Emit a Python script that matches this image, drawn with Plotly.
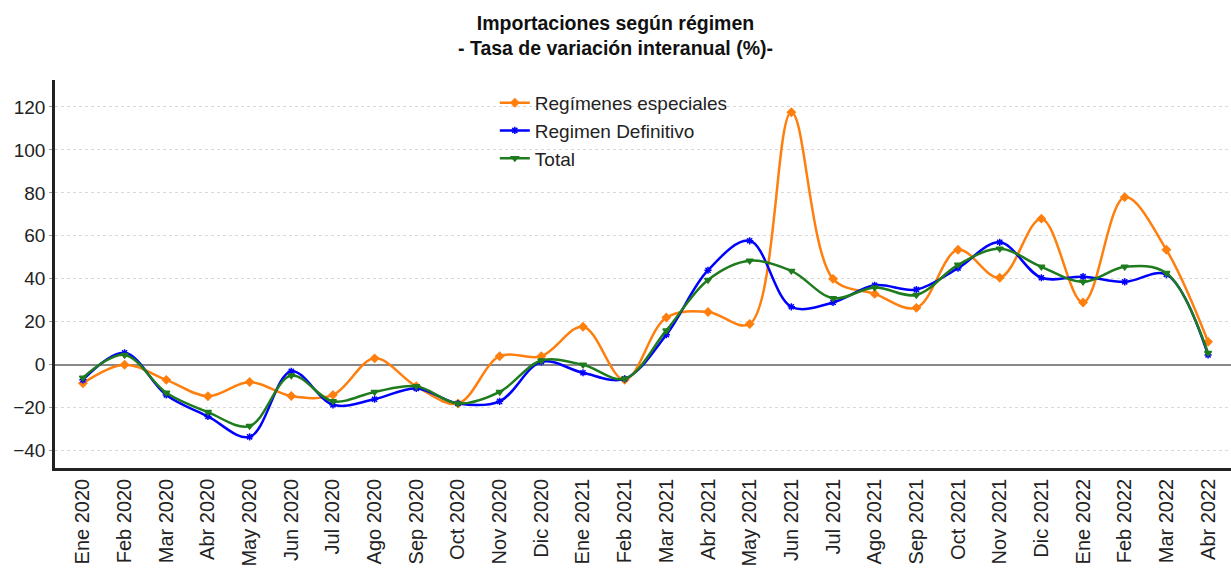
import plotly.graph_objects as go

meses = ["Ene 2020", "Feb 2020", "Mar 2020", "Abr 2020", "May 2020", "Jun 2020", "Jul 2020",
         "Ago 2020", "Sep 2020", "Oct 2020", "Nov 2020", "Dic 2020", "Ene 2021", "Feb 2021",
         "Mar 2021", "Abr 2021", "May 2021", "Jun 2021", "Jul 2021", "Ago 2021", "Sep 2021",
         "Oct 2021", "Nov 2021", "Dic 2021", "Ene 2022", "Feb 2022", "Mar 2022", "Abr 2022"]

regimenes_especiales = [-8.6, 0, -7, -14.6, -8, -14.5, -14, 3, -10, -18, 4, 4, 17.7, -7,
                        22, 24.6, 19, 117.5, 40, 33, 26.5, 53.5, 40.5, 68, 29, 78, 53.5, 10.7]
regimen_definitivo = [-7, 5.6, -14, -24, -33.5, -3, -18.6, -16, -11, -18, -17, 1.4, -3.7, -6.5,
                      14, 44, 57.7, 27, 29, 37, 35, 45, 57, 40.5, 41, 38.6, 42, 4.6]
total = [-6, 4.6, -13, -22, -28.5, -5, -17, -12.6, -10, -18, -12.6, 2, 0, -6.5,
         16, 39.5, 48.4, 43.7, 31, 36, 32.5, 46.5, 54, 45.6, 38.6, 45.6, 42.7, 5.5]

series = [
    ("Regímenes especiales", regimenes_especiales, "#ff7f0e", "diamond"),
    ("Regimen Definitivo", regimen_definitivo, "#0000ff", "asterisk"),
    ("Total", total, "#1e7b1e", "triangle-down"),
]

fig = go.Figure()
for name, vals, color, sym in series:
    fig.add_trace(go.Scatter(
        x=meses, y=vals, name=name, mode="lines+markers",
        line=dict(color=color, width=2.5, shape="spline", smoothing=1.0),
        marker=dict(symbol=sym, size=6, color=color,
                    line=dict(color=color, width=1.5)),
    ))

font_family = "Liberation Sans, Arial, sans-serif"
fig.update_layout(
    width=1231, height=576,
    paper_bgcolor="white", plot_bgcolor="white",
    margin=dict(l=55, r=0, t=80, b=108),
    title=dict(
        text="<b>Importaciones según régimen<br>- Tasa de variación interanual (%)-</b>",
        x=0.5, xanchor="center", y=0.948, yanchor="top", yref="container",
        font=dict(family=font_family, size=19.5, color="#111"),
    ),
    font=dict(family=font_family, size=18, color="#222"),
    legend=dict(
        x=0.374, y=0.99, xanchor="left", yanchor="top",
        bgcolor="rgba(0,0,0,0)", font=dict(size=19, color="#222"),
        tracegroupgap=0, itemwidth=30,
    ),
    showlegend=True,
)
fig.update_xaxes(
    type="category", range=[-0.67, 27.55],
    tickangle=-90, tickfont=dict(size=20, color="#222"),
    showgrid=False, showline=True, linecolor="#222", linewidth=2.5,
    ticks="", zeroline=False,
)
fig.update_yaxes(
    range=[-48, 132.5], tickvals=[-40, -20, 0, 20, 40, 60, 80, 100, 120],
    showgrid=True, gridcolor="#d9d9d9", griddash="dot", gridwidth=1,
    zeroline=True, zerolinecolor="#888", zerolinewidth=2,
    showline=True, linecolor="#222", linewidth=2.5,
    ticks="outside", ticklen=3, tickcolor="#999",
    tickfont=dict(size=19, color="#222"),
)

fig.write_html("out.html", config={"displayModeBar": False},
               post_script="document.body.style.margin='0';")
